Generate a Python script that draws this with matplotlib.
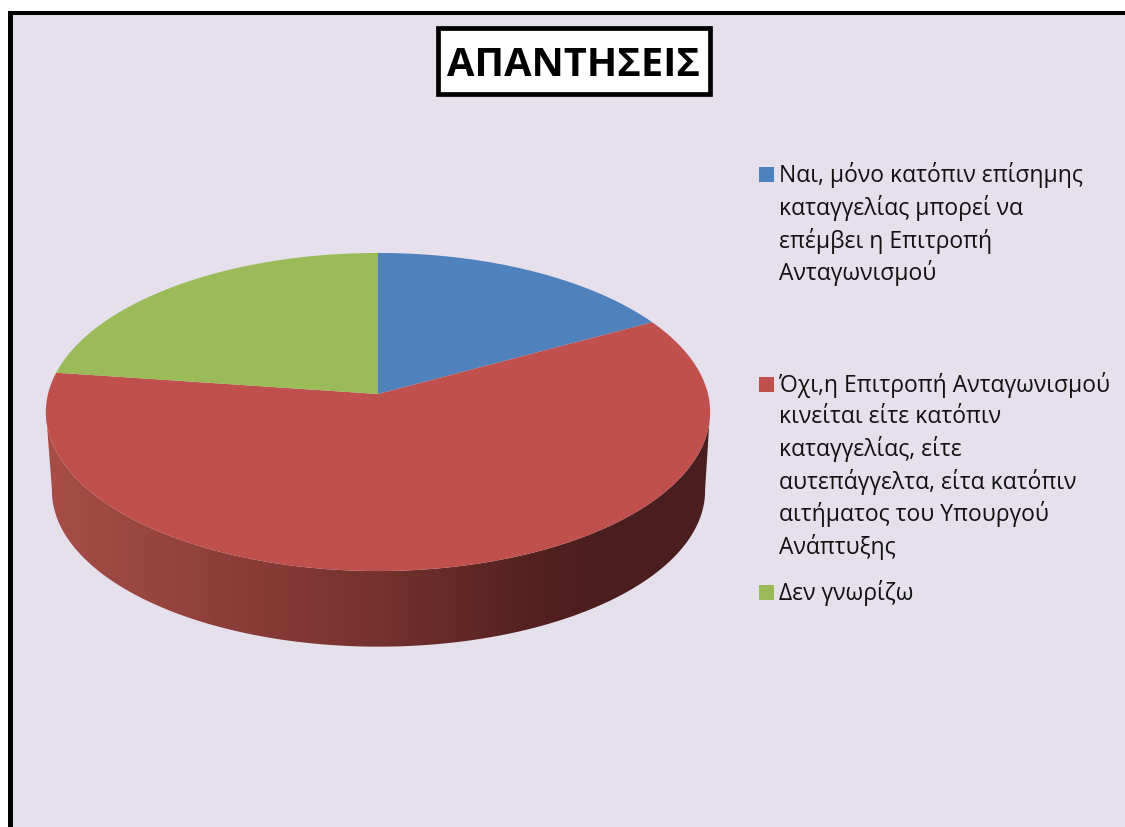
import numpy as np
import matplotlib
matplotlib.use("Agg")
import matplotlib.pyplot as plt
from matplotlib.colors import LinearSegmentedColormap
from matplotlib.patches import Polygon, Rectangle

plt.rcParams['font.family'] = ['Open Sans', 'DejaVu Sans']

title = "ΑΠΑΝΤΗΣΕΙΣ"
values = [17.0, 60.2, 22.8]
colors = ["#4f81bd", "#c0504d", "#9bbb59"]
legend_lines = [
    ["Ναι, μόνο κατόπιν επίσημης", "καταγγελίας μπορεί να", "επέμβει η Επιτροπή", "Ανταγωνισμού"],
    ["Όχι,η Επιτροπή Ανταγωνισμού", "κινείται είτε κατόπιν", "καταγγελίας, είτε",
     "αυτεπάγγελτα, είτα κατόπιν", "αιτήματος του Υπουργού", "Ανάπτυξης"],
    ["Δεν γνωρίζω"],
]
legend_y = [[175, 208, 241, 273], [385, 417, 449, 482, 514, 547], [593]]

fig = plt.figure(figsize=(11.25, 8.27), dpi=100, facecolor="white")
ax = fig.add_axes([0, 0, 1, 1])

# the pie gives the slice angles, the wedges are then redrawn tilted
wedges, _ = ax.pie(values, startangle=90, counterclock=False, colors=colors)


def project(theta, cx=378.0, cy=394.0, a=330.0, b=157.0, k=0.1132):
    # circle seen in perspective, centre of the circle lands on (cx, cy)
    x = np.cos(np.radians(theta))
    y = np.sin(np.radians(theta))
    d = 1 + k * y
    return cx + a * x / d, cy - b * y / d


# pixel coords from here on
ax.set_aspect('auto')
ax.set_xlim(0, 1125)
ax.set_ylim(827, 0)
ax.set_axis_off()

ax.add_patch(Rectangle((8, 11), 1200, 900, facecolor="black", edgecolor="none", zorder=0))
ax.add_patch(Rectangle((13, 14.5), 1200, 900, facecolor="#e5e0ec", edgecolor="none", zorder=0.5))

# side of the pie, gradient clipped to the band under the front edge
th = np.linspace(-6, -174, 200)
tx, ty = project(th)
bx, by = project(th, cx=378.5, cy=473.0, a=324.5, b=154.0)
side = Polygon(np.r_[np.c_[tx, ty], np.c_[bx, by][::-1]], facecolor="none", edgecolor="none", zorder=2)
ax.add_patch(side)
grad = LinearSegmentedColormap.from_list("side", [
    (0.0, "#a84e49"), (0.3, "#8a3c38"), (0.5, "#76322e"), (0.72, "#552220"), (0.82, "#4b1e1d"), (1.0, "#4a1f1f")])
img = ax.imshow(np.linspace(0, 1, 256).reshape(1, -1), cmap=grad, extent=(45, 710, 660, 390),
                aspect='auto', zorder=2)
img.set_clip_path(side)
ax.set_xlim(0, 1125)
ax.set_ylim(827, 0)

for w, c in zip(wedges, colors):
    w.set_visible(False)
    t = np.linspace(w.theta1, w.theta2, 200)
    px, py = project(t)
    vx, vy = project(0.0, a=0.0, b=0.0)
    ax.add_patch(Polygon(np.r_[[[vx, vy]], np.c_[px, py]], facecolor=c, edgecolor="none", zorder=3))

# title box
ax.add_patch(Rectangle((438, 28), 272, 66, facecolor="white", edgecolor="black", linewidth=3.4, zorder=4))
ax.text(573.5, 65.5, title, fontsize=28.6, fontweight="bold", color="black",
        ha="center", va="center", zorder=5)

# legend
for lines, ys, c in zip(legend_lines, legend_y, colors):
    ax.add_patch(Rectangle((759, ys[0] - 8), 15, 15, facecolor=c, edgecolor="none", zorder=4))
    for s, y in zip(lines, ys):
        ax.text(779, y, s, fontsize=16.5, color="#111111", ha="left", va="center", zorder=5)

fig.savefig("out.png", dpi=100)
